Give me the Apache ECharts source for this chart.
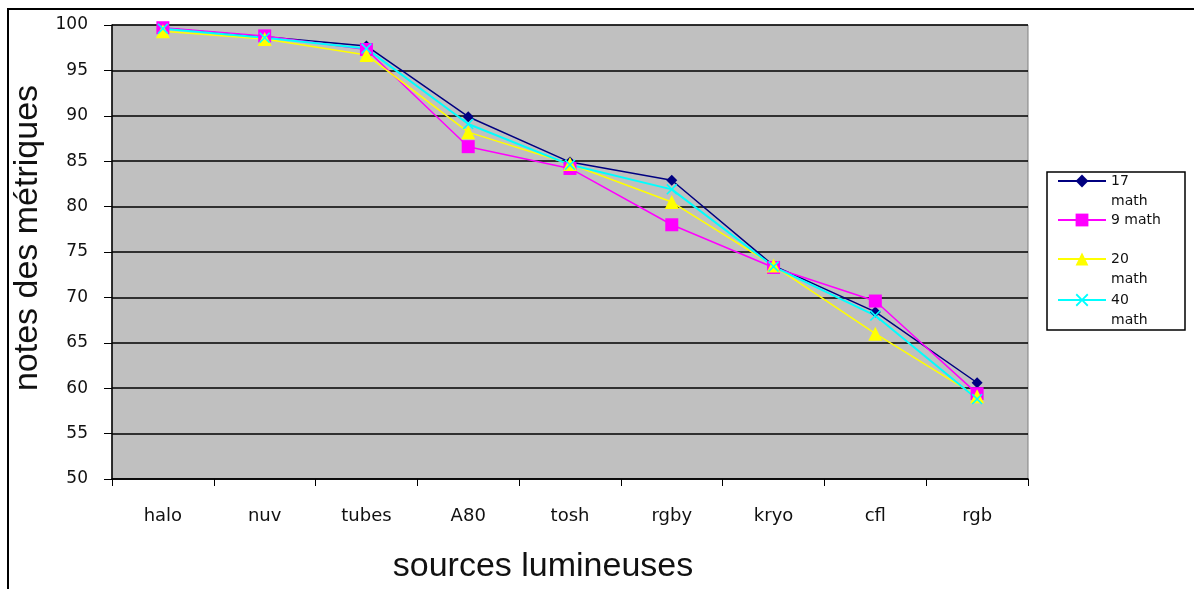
<!DOCTYPE html>
<html>
<head>
<meta charset="utf-8">
<title>notes des métriques</title>
<script src="https://cdn.jsdelivr.net/npm/echarts@6/dist/echarts.min.js"></script>
<style>
    html, body { margin: 0; padding: 0; background: #fff; }
    #chart_main { width: 1194px; height: 589px; }
</style>
</head>
<body>
<div id="chart_main"></div>
<script>
var categories = ['halo', 'nuv', 'tubes', 'A80', 'tosh', 'rgby', 'kryo', 'cfl', 'rgb'];
var yTicks = { min: 50, max: 100, interval: 5 };

var math17 = [99.65, 98.7, 97.7, 89.9, 84.9, 82.9, 73.5, 68.4, 60.6];
var math9 = [99.7, 98.8, 97.3, 86.6, 84.2, 78.0, 73.3, 69.6, 59.4];
var math20 = [99.3, 98.45, 96.7, 88.2, 84.7, 80.5, 73.5, 66.0, 59.1];
var math40 = [99.6, 98.6, 97.4, 89.1, 84.6, 81.9, 73.4, 68.0, 58.8];

var seriesNames = ['17 math', '9 math', '20 math', '40 math'];
// leading blank line keeps the icon level with the first text line
var legendLabels = [' \n17\nmath', '9 math', ' \n20\nmath', ' \n40\nmath'];

var chart_main = echarts.init(document.getElementById('chart_main'));

var crossPath = 'path://M0,1L1,0L5,4L9,0L10,1L6,5L10,9L9,10L5,6L1,10L0,9L4,5Z';
var titleFont = '"Liberation Sans", Arial, sans-serif';
var labelFont = '"DejaVu Sans", Verdana, sans-serif';

function makeLegend(idx, top) {
    return {
        data: [seriesNames[idx]],
        left: 1057,
        top: top,
        padding: 0,
        itemWidth: 48,
        itemHeight: 16,
        itemGap: 0,
        formatter: function () { return legendLabels[idx]; },
        textStyle: {
            fontFamily: labelFont,
            fontSize: 14,
            color: '#111',
            lineHeight: 20
        }
    };
}

var option = {
    animation: false,
    backgroundColor: '#fff',
    grid: {
        left: 112,
        top: 25,
        right: 166,
        bottom: 109,
        show: true,
        backgroundColor: '#c0c0c0',
        borderColor: '#808080',
        borderWidth: 1
    },
    legend: [
        makeLegend(0, 151),
        makeLegend(1, 210),
        makeLegend(2, 229),
        makeLegend(3, 270)
    ],
    xAxis: {
        type: 'category',
        data: categories,
        boundaryGap: true,
        name: 'sources lumineuses',
        nameLocation: 'middle',
        nameGap: 71,
        nameTextStyle: {
            fontFamily: titleFont,
            fontSize: 34,
            color: '#111',
            padding: [0, 54, 0, 0]
        },
        axisLine: { lineStyle: { color: '#000', width: 1.5 } },
        axisTick: { show: true, length: 7, lineStyle: { color: '#000' } },
        axisLabel: {
            margin: 28,
            fontFamily: labelFont,
            fontSize: 18,
            color: '#111'
        },
        splitLine: { show: false }
    },
    yAxis: {
        type: 'value',
        min: yTicks.min,
        max: yTicks.max,
        interval: yTicks.interval,
        name: 'notes des métriques',
        nameLocation: 'middle',
        nameGap: 64,
        nameTextStyle: {
            fontFamily: titleFont,
            fontSize: 34,
            color: '#111',
            padding: [0, 0, 0, 28]
        },
        axisLine: { show: true, lineStyle: { color: '#000', width: 1.5 } },
        axisTick: { show: true, length: 8, lineStyle: { color: '#000' } },
        axisLabel: {
            margin: 24,
            fontFamily: labelFont,
            fontSize: 17,
            color: '#111'
        },
        splitLine: { show: true, lineStyle: { color: '#000', width: 1.5 } }
    },
    series: [
        {
            name: seriesNames[0],
            type: 'line',
            data: math17,
            symbol: 'diamond',
            symbolSize: 11,
            color: '#000080',
            lineStyle: { color: '#000080', width: 1.5 },
            itemStyle: { color: '#000080' }
        },
        {
            name: seriesNames[1],
            type: 'line',
            data: math9,
            symbol: 'rect',
            symbolSize: 13,
            color: '#ff00ff',
            lineStyle: { color: '#ff00ff', width: 1.5 },
            itemStyle: { color: '#ff00ff' }
        },
        {
            name: seriesNames[2],
            type: 'line',
            data: math20,
            symbol: 'triangle',
            symbolSize: 14,
            color: '#ffff00',
            lineStyle: { color: '#ffff00', width: 1.5 },
            itemStyle: { color: '#ffff00' }
        },
        {
            name: seriesNames[3],
            type: 'line',
            data: math40,
            symbol: crossPath,
            symbolSize: 11,
            color: '#00ffff',
            lineStyle: { color: '#00ffff', width: 2 },
            itemStyle: { color: '#00ffff' }
        }
    ],
    graphic: [
        // outer frame, top and left edges only
        {
            type: 'polyline',
            shape: { points: [[8, 589], [8, 9], [1194, 9]] },
            style: { stroke: '#000', lineWidth: 2, fill: null },
            silent: true
        },
        // legend box
        {
            type: 'rect',
            shape: { x: 1047, y: 172, width: 138, height: 158 },
            style: { stroke: '#000', lineWidth: 1.5, fill: '#fff' },
            z: -1,
            silent: true
        }
    ]
};

chart_main.setOption(option);
</script>
</body>
</html>
